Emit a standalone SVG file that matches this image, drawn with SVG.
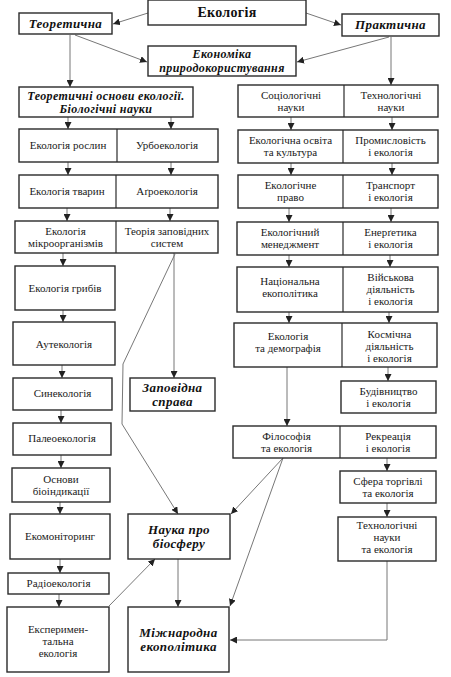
<svg xmlns="http://www.w3.org/2000/svg" width="451" height="677" viewBox="0 0 451 677">
<defs>
<marker id="ah" viewBox="0 0 10 10" refX="10" refY="5" markerWidth="7" markerHeight="7" markerUnits="userSpaceOnUse" orient="auto">
<path d="M0,0 L10,5 L0,10 z" fill="#222"/>
</marker>
</defs>
<style>
.b{fill:#fff;stroke:#2a2a2a;stroke-width:1.4}
.d{stroke:#2a2a2a;stroke-width:1.2}
.t{font-family:"Liberation Serif","DejaVu Serif",serif;font-size:11px;fill:#1a1a1a;text-anchor:middle}
.bi{font-family:"Liberation Serif","DejaVu Serif",serif;font-size:13px;font-weight:bold;font-style:italic;fill:#111;text-anchor:middle;letter-spacing:0.4px}
.h{font-family:"Liberation Serif","DejaVu Serif",serif;font-size:14px;font-weight:bold;fill:#111;text-anchor:middle;letter-spacing:0.3px}
.c{fill:none;stroke:#777;stroke-width:1;marker-end:url(#ah)}
</style>
<rect width="451" height="677" fill="#fff"/>
<g id="connectors">
<line class="c" x1="148" y1="13" x2="113" y2="24"/>
<line class="c" x1="306" y1="13" x2="341" y2="25"/>
<line class="c" x1="75" y1="35" x2="147" y2="62"/>
<line class="c" x1="389" y1="37" x2="297" y2="62"/>
<line class="c" x1="70" y1="35" x2="70" y2="87"/>
<line class="c" x1="391" y1="37" x2="391" y2="85"/>
<line class="c" x1="68" y1="117" x2="68" y2="129"/>
<line class="c" x1="171" y1="117" x2="171" y2="129"/>
<line class="c" x1="68" y1="162" x2="68" y2="175"/>
<line class="c" x1="171" y1="162" x2="171" y2="175"/>
<line class="c" x1="67" y1="208" x2="67" y2="221"/>
<line class="c" x1="170" y1="208" x2="170" y2="221"/>
<line class="c" x1="63" y1="253" x2="63" y2="266"/>
<line class="c" x1="63" y1="310" x2="63" y2="322"/>
<line class="c" x1="62" y1="365" x2="62" y2="378"/>
<line class="c" x1="61" y1="410" x2="61" y2="423"/>
<line class="c" x1="61" y1="455" x2="61" y2="468"/>
<line class="c" x1="60" y1="502" x2="60" y2="514"/>
<line class="c" x1="60" y1="559" x2="60" y2="573"/>
<line class="c" x1="59" y1="594" x2="59" y2="607"/>
<line class="c" x1="174" y1="253" x2="174" y2="378"/>
<polyline class="c" points="175,254 123,364 122,424 178,514"/>
<line class="c" x1="109" y1="606" x2="155" y2="559"/>
<line class="c" x1="178" y1="559" x2="178" y2="607"/>
<line class="c" x1="291" y1="117" x2="291" y2="130"/>
<line class="c" x1="392" y1="117" x2="392" y2="130"/>
<line class="c" x1="291" y1="163" x2="291" y2="175"/>
<line class="c" x1="392" y1="163" x2="392" y2="175"/>
<line class="c" x1="289" y1="208" x2="289" y2="222"/>
<line class="c" x1="391" y1="208" x2="391" y2="222"/>
<line class="c" x1="289" y1="255" x2="289" y2="267"/>
<line class="c" x1="390" y1="255" x2="390" y2="267"/>
<line class="c" x1="289" y1="312" x2="289" y2="323"/>
<line class="c" x1="389" y1="312" x2="389" y2="323"/>
<line class="c" x1="388" y1="367" x2="388" y2="381"/>
<line class="c" x1="287" y1="367" x2="287" y2="426"/>
<line class="c" x1="387" y1="458" x2="387" y2="471"/>
<line class="c" x1="387" y1="503" x2="387" y2="517"/>
<line class="c" x1="283" y1="458" x2="231" y2="514"/>
<line class="c" x1="283" y1="458" x2="230" y2="606"/>
<polyline class="c" points="387,561 387,640 230,640"/>
</g>
<g id="n-ekologiya"><rect class="b" x="148" y="0" width="158" height="25"/><text class="h" x="227" y="17">Екологія</text></g>
<g id="n-teor"><rect class="b" x="19" y="13" width="93" height="21"/><text class="bi" x="65.5" y="28">Теоретична</text></g>
<g id="n-prakt"><rect class="b" x="342" y="14" width="97" height="22"/><text class="bi" x="390.5" y="29">Практична</text></g>
<g id="n-econ"><rect class="b" x="148" y="46" width="148" height="30"/><text class="bi" x="222" y="58" style="font-size:12px">Економіка</text><text class="bi" x="222" y="71.5" style="font-size:12px">природокористування</text></g>
<g id="n-osn"><rect class="b" x="19" y="87" width="174" height="30"/><text class="bi" x="106" y="100" style="font-size:12px">Теоретичні основи екології.</text><text class="bi" x="106" y="113" style="font-size:12px">Біологічні науки</text></g>
<g id="n-l2"><rect class="b" x="19" y="129" width="199" height="33"/><line class="d" x1="117" y1="129" x2="117" y2="162"/><text class="t" x="68" y="149">Екологія рослин</text><text class="t" x="167" y="149">Урбоекологія</text></g>
<g id="n-l3"><rect class="b" x="19" y="175" width="199" height="33"/><line class="d" x1="116" y1="175" x2="116" y2="208"/><text class="t" x="67" y="195">Екологія тварин</text><text class="t" x="167" y="195">Аґроекологія</text></g>
<g id="n-l4"><rect class="b" x="15" y="221" width="203" height="32"/><line class="d" x1="116" y1="221" x2="116" y2="253"/><text class="t" x="65.5" y="235">Екологія</text><text class="t" x="65.5" y="247">мікроорганізмів</text><text class="t" x="167" y="235">Теорія заповідних</text><text class="t" x="167" y="247">систем</text></g>
<g id="n-grib"><rect class="b" x="15" y="266" width="100" height="44"/><text class="t" x="65" y="292">Екологія грибів</text></g>
<g id="n-aut"><rect class="b" x="13" y="322" width="102" height="43"/><text class="t" x="64" y="348">Аутекологія</text></g>
<g id="n-sin"><rect class="b" x="13" y="378" width="99" height="32"/><text class="t" x="62.5" y="397">Синекологія</text></g>
<g id="n-pal"><rect class="b" x="13" y="423" width="98" height="32"/><text class="t" x="62" y="442">Палеоекологія</text></g>
<g id="n-osnbio"><rect class="b" x="12" y="468" width="98" height="34"/><text class="t" x="61" y="483">Основи</text><text class="t" x="61" y="495">біоіндикації</text></g>
<g id="n-ekomon"><rect class="b" x="10" y="514" width="100" height="45"/><text class="t" x="60" y="540">Екомоніторинг</text></g>
<g id="n-radio"><rect class="b" x="8" y="573" width="101" height="21"/><text class="t" x="58.5" y="587">Радіоекологія</text></g>
<g id="n-eksp"><rect class="b" x="7" y="607" width="102" height="65"/><text class="t" x="58" y="633">Експеримен-</text><text class="t" x="58" y="645">тальна</text><text class="t" x="58" y="657">екологія</text></g>
<g id="n-zap"><rect class="b" x="130" y="378" width="85" height="33"/><text class="bi" x="172.5" y="392">Заповідна</text><text class="bi" x="172.5" y="406">справа</text></g>
<g id="n-nauka"><rect class="b" x="128" y="514" width="102" height="45"/><text class="bi" x="179" y="534">Наука про</text><text class="bi" x="179" y="548">біосферу</text></g>
<g id="n-mizh"><rect class="b" x="128" y="607" width="101" height="65"/><text class="bi" x="178.5" y="637">Міжнародна</text><text class="bi" x="178.5" y="651">екополітика</text></g>
<g id="n-r1"><rect class="b" x="238" y="85" width="200" height="32"/><line class="d" x1="344" y1="85" x2="344" y2="117"/><text class="t" x="291" y="99">Соціологічні</text><text class="t" x="291" y="111">науки</text><text class="t" x="391" y="99">Технологічні</text><text class="t" x="391" y="111">науки</text></g>
<g id="n-r2"><rect class="b" x="238" y="130" width="200" height="33"/><line class="d" x1="343" y1="130" x2="343" y2="163"/><text class="t" x="290.5" y="144">Екологічна освіта</text><text class="t" x="290.5" y="156">та культура</text><text class="t" x="390.5" y="144">Промисловість</text><text class="t" x="390.5" y="156">і екологія</text></g>
<g id="n-r3"><rect class="b" x="238" y="175" width="200" height="33"/><line class="d" x1="343" y1="175" x2="343" y2="208"/><text class="t" x="290.5" y="189">Екологічне</text><text class="t" x="290.5" y="201">право</text><text class="t" x="390.5" y="189">Транспорт</text><text class="t" x="390.5" y="201">і екологія</text></g>
<g id="n-r4"><rect class="b" x="237" y="222" width="201" height="33"/><line class="d" x1="343" y1="222" x2="343" y2="255"/><text class="t" x="290" y="236">Екологічний</text><text class="t" x="290" y="248">менеджмент</text><text class="t" x="390.5" y="236">Енерґетика</text><text class="t" x="390.5" y="248">і екологія</text></g>
<g id="n-r5"><rect class="b" x="237" y="267" width="201" height="45"/><line class="d" x1="343" y1="267" x2="343" y2="312"/><text class="t" x="290" y="285">Національна</text><text class="t" x="290" y="297">екополітика</text><text class="t" x="390.5" y="281">Військова</text><text class="t" x="390.5" y="293">діяльність</text><text class="t" x="390.5" y="305">і екологія</text></g>
<g id="n-r6"><rect class="b" x="234" y="323" width="203" height="44"/><line class="d" x1="342" y1="323" x2="342" y2="367"/><text class="t" x="288" y="340">Екологія</text><text class="t" x="288" y="352">та демографія</text><text class="t" x="389.5" y="338">Космічна</text><text class="t" x="389.5" y="350">діяльність</text><text class="t" x="389.5" y="362">і екологія</text></g>
<g id="n-bud"><rect class="b" x="341" y="381" width="95" height="32"/><text class="t" x="388.5" y="395">Будівництво</text><text class="t" x="388.5" y="407">і екологія</text></g>
<g id="n-r7"><rect class="b" x="233" y="426" width="203" height="32"/><line class="d" x1="340" y1="426" x2="340" y2="458"/><text class="t" x="286.5" y="440">Філософія</text><text class="t" x="286.5" y="452">та екологія</text><text class="t" x="388" y="440">Рекреація</text><text class="t" x="388" y="452">і екологія</text></g>
<g id="n-sfera"><rect class="b" x="340" y="471" width="96" height="32"/><text class="t" x="388" y="485">Сфера торгівлі</text><text class="t" x="388" y="497">та екологія</text></g>
<g id="n-tekhn"><rect class="b" x="338" y="517" width="98" height="44"/><text class="t" x="387" y="529">Технологічні</text><text class="t" x="387" y="541">науки</text><text class="t" x="387" y="553">та екологія</text></g>
</svg>
